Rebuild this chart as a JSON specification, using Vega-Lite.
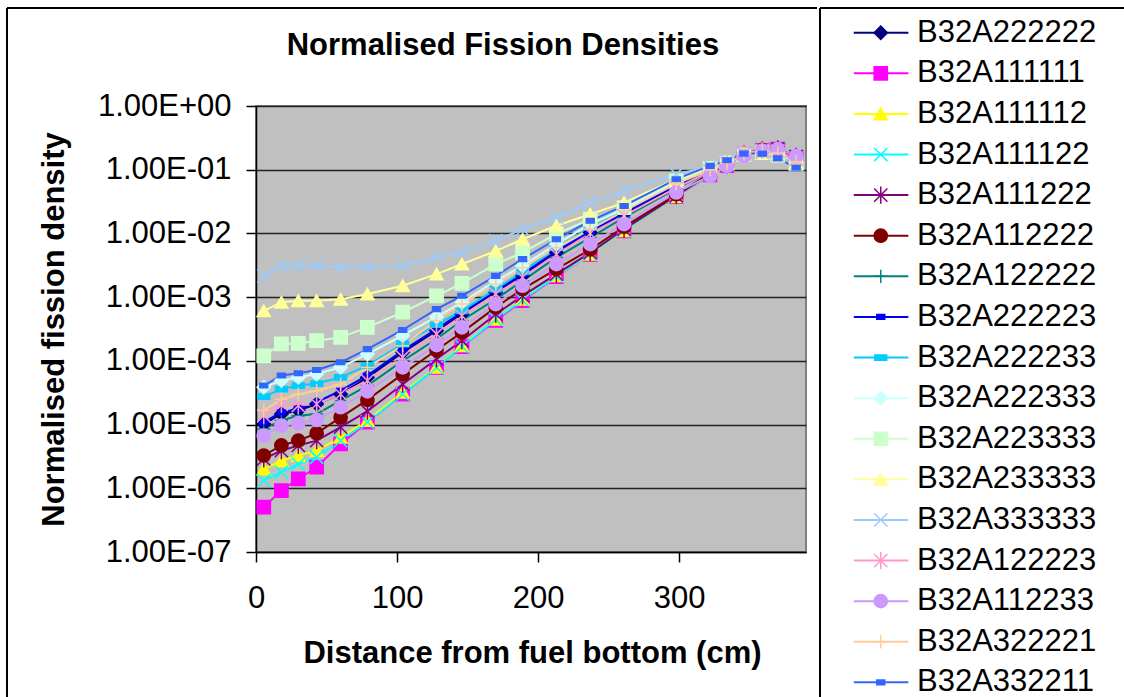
{
  "$schema": "https://vega.github.io/schema/vega-lite/v6.json",
  "padding": {"left": 5, "top": 6, "right": 0, "bottom": 0},
  "spacing": 0,
  "config": {"font": "Liberation Sans", "text": {"font": "Liberation Sans"}},
  "datasets": {
    "names": [{"s":"B32A222222","i":1},{"s":"B32A111111","i":2},{"s":"B32A111112","i":3},{"s":"B32A111122","i":4},{"s":"B32A111222","i":5},{"s":"B32A112222","i":6},{"s":"B32A122222","i":7},{"s":"B32A222223","i":8},{"s":"B32A222233","i":9},{"s":"B32A222333","i":10},{"s":"B32A223333","i":11},{"s":"B32A233333","i":12},{"s":"B32A333333","i":13},{"s":"B32A122223","i":14},{"s":"B32A112233","i":15},{"s":"B32A322221","i":16},{"s":"B32A332211","i":17}],
    "d": [
{"s":"B32A222222","x":5.5,"y":1.02e-5},{"s":"B32A222222","x":18,"y":1.47e-5},{"s":"B32A222222","x":30,"y":1.66e-5},{"s":"B32A222222","x":43,"y":2.1e-5},{"s":"B32A222222","x":60,"y":3.0e-5},{"s":"B32A222222","x":79,"y":5.5e-5},{"s":"B32A222222","x":104,"y":1.36e-4},{"s":"B32A222222","x":128,"y":2.97e-4},{"s":"B32A222222","x":146,"y":5.4e-4},{"s":"B32A222222","x":170,"y":1.19e-3},{"s":"B32A222222","x":189,"y":2.16e-3},{"s":"B32A222222","x":213,"y":5.0e-3},{"s":"B32A222222","x":237,"y":1.03e-2},{"s":"B32A222222","x":261,"y":2.0e-2},{"s":"B32A222222","x":298,"y":5.5e-2},{"s":"B32A222222","x":322,"y":0.097},{"s":"B32A222222","x":334,"y":0.125},{"s":"B32A222222","x":346,"y":0.18},{"s":"B32A222222","x":359,"y":0.2},{"s":"B32A222222","x":370,"y":0.19},{"s":"B32A222222","x":383,"y":0.14},
{"s":"B32A111111","x":5.5,"y":5.06e-7},{"s":"B32A111111","x":18,"y":9.2e-7},{"s":"B32A111111","x":30,"y":1.41e-6},{"s":"B32A111111","x":43,"y":2.14e-6},{"s":"B32A111111","x":60,"y":4.98e-6},{"s":"B32A111111","x":79,"y":1.09e-5},{"s":"B32A111111","x":104,"y":3.0e-5},{"s":"B32A111111","x":128,"y":7.9e-5},{"s":"B32A111111","x":146,"y":1.67e-4},{"s":"B32A111111","x":170,"y":4.3e-4},{"s":"B32A111111","x":189,"y":8.8e-4},{"s":"B32A111111","x":213,"y":2.1e-3},{"s":"B32A111111","x":237,"y":4.7e-3},{"s":"B32A111111","x":261,"y":1.1e-2},{"s":"B32A111111","x":298,"y":3.8e-2},{"s":"B32A111111","x":322,"y":0.083},{"s":"B32A111111","x":334,"y":0.116},{"s":"B32A111111","x":346,"y":0.172},{"s":"B32A111111","x":359,"y":0.2},{"s":"B32A111111","x":370,"y":0.21},{"s":"B32A111111","x":383,"y":0.155},
{"s":"B32A111112","x":5.5,"y":2.0e-6},{"s":"B32A111112","x":18,"y":2.7e-6},{"s":"B32A111112","x":30,"y":3.27e-6},{"s":"B32A111112","x":43,"y":3.9e-6},{"s":"B32A111112","x":60,"y":6.3e-6},{"s":"B32A111112","x":79,"y":1.16e-5},{"s":"B32A111112","x":104,"y":3.2e-5},{"s":"B32A111112","x":128,"y":7.9e-5},{"s":"B32A111112","x":146,"y":1.73e-4},{"s":"B32A111112","x":170,"y":4.5e-4},{"s":"B32A111112","x":189,"y":9.3e-4},{"s":"B32A111112","x":213,"y":2.16e-3},{"s":"B32A111112","x":237,"y":4.7e-3},{"s":"B32A111112","x":261,"y":1.1e-2},{"s":"B32A111112","x":298,"y":3.8e-2},{"s":"B32A111112","x":322,"y":0.085},{"s":"B32A111112","x":334,"y":0.118},{"s":"B32A111112","x":346,"y":0.178},{"s":"B32A111112","x":359,"y":0.205},{"s":"B32A111112","x":370,"y":0.215},{"s":"B32A111112","x":383,"y":0.16},
{"s":"B32A111122","x":5.5,"y":1.33e-6},{"s":"B32A111122","x":18,"y":1.79e-6},{"s":"B32A111122","x":30,"y":2.4e-6},{"s":"B32A111122","x":43,"y":3.07e-6},{"s":"B32A111122","x":60,"y":5.6e-6},{"s":"B32A111122","x":79,"y":1.09e-5},{"s":"B32A111122","x":104,"y":3.0e-5},{"s":"B32A111122","x":128,"y":7.9e-5},{"s":"B32A111122","x":146,"y":1.67e-4},{"s":"B32A111122","x":170,"y":4.5e-4},{"s":"B32A111122","x":189,"y":9.0e-4},{"s":"B32A111122","x":213,"y":2.16e-3},{"s":"B32A111122","x":237,"y":4.8e-3},{"s":"B32A111122","x":261,"y":1.12e-2},{"s":"B32A111122","x":298,"y":3.85e-2},{"s":"B32A111122","x":322,"y":0.084},{"s":"B32A111122","x":334,"y":0.117},{"s":"B32A111122","x":346,"y":0.176},{"s":"B32A111122","x":359,"y":0.203},{"s":"B32A111122","x":370,"y":0.212},{"s":"B32A111122","x":383,"y":0.158},
{"s":"B32A111222","x":5.5,"y":2.9e-6},{"s":"B32A111222","x":18,"y":3.9e-6},{"s":"B32A111222","x":30,"y":4.7e-6},{"s":"B32A111222","x":43,"y":5.6e-6},{"s":"B32A111222","x":60,"y":9.1e-6},{"s":"B32A111222","x":79,"y":1.62e-5},{"s":"B32A111222","x":104,"y":4.3e-5},{"s":"B32A111222","x":128,"y":1.07e-4},{"s":"B32A111222","x":146,"y":2.07e-4},{"s":"B32A111222","x":170,"y":5.4e-4},{"s":"B32A111222","x":189,"y":1.05e-3},{"s":"B32A111222","x":213,"y":2.3e-3},{"s":"B32A111222","x":237,"y":5.0e-3},{"s":"B32A111222","x":261,"y":1.17e-2},{"s":"B32A111222","x":298,"y":3.9e-2},{"s":"B32A111222","x":322,"y":0.086},{"s":"B32A111222","x":334,"y":0.119},{"s":"B32A111222","x":346,"y":0.18},{"s":"B32A111222","x":359,"y":0.207},{"s":"B32A111222","x":370,"y":0.213},{"s":"B32A111222","x":383,"y":0.162},
{"s":"B32A112222","x":5.5,"y":3.27e-6},{"s":"B32A112222","x":18,"y":4.7e-6},{"s":"B32A112222","x":30,"y":5.6e-6},{"s":"B32A112222","x":43,"y":7.3e-6},{"s":"B32A112222","x":60,"y":1.3e-5},{"s":"B32A112222","x":79,"y":2.44e-5},{"s":"B32A112222","x":104,"y":6.2e-5},{"s":"B32A112222","x":128,"y":1.48e-4},{"s":"B32A112222","x":146,"y":2.8e-4},{"s":"B32A112222","x":170,"y":6.9e-4},{"s":"B32A112222","x":189,"y":1.34e-3},{"s":"B32A112222","x":213,"y":2.75e-3},{"s":"B32A112222","x":237,"y":5.6e-3},{"s":"B32A112222","x":261,"y":1.27e-2},{"s":"B32A112222","x":298,"y":4.1e-2},{"s":"B32A112222","x":322,"y":0.088},{"s":"B32A112222","x":334,"y":0.12},{"s":"B32A112222","x":346,"y":0.178},{"s":"B32A112222","x":359,"y":0.205},{"s":"B32A112222","x":370,"y":0.21},{"s":"B32A112222","x":383,"y":0.158},
{"s":"B32A122222","x":5.5,"y":8.55e-6},{"s":"B32A122222","x":18,"y":1.16e-5},{"s":"B32A122222","x":30,"y":1.38e-5},{"s":"B32A122222","x":43,"y":1.47e-5},{"s":"B32A122222","x":60,"y":2.38e-5},{"s":"B32A122222","x":79,"y":4.1e-5},{"s":"B32A122222","x":104,"y":1.0e-4},{"s":"B32A122222","x":128,"y":2.2e-4},{"s":"B32A122222","x":146,"y":4.3e-4},{"s":"B32A122222","x":170,"y":9.3e-4},{"s":"B32A122222","x":189,"y":1.8e-3},{"s":"B32A122222","x":213,"y":4.2e-3},{"s":"B32A122222","x":237,"y":8.6e-3},{"s":"B32A122222","x":261,"y":1.78e-2},{"s":"B32A122222","x":298,"y":5.0e-2},{"s":"B32A122222","x":322,"y":0.095},{"s":"B32A122222","x":334,"y":0.124},{"s":"B32A122222","x":346,"y":0.18},{"s":"B32A122222","x":359,"y":0.2},{"s":"B32A122222","x":370,"y":0.19},{"s":"B32A122222","x":383,"y":0.142},
{"s":"B32A222223","x":5.5,"y":1.09e-5},{"s":"B32A222223","x":18,"y":1.56e-5},{"s":"B32A222223","x":30,"y":1.76e-5},{"s":"B32A222223","x":43,"y":2.24e-5},{"s":"B32A222223","x":60,"y":3.4e-5},{"s":"B32A222223","x":79,"y":5.9e-5},{"s":"B32A222223","x":104,"y":1.45e-4},{"s":"B32A222223","x":128,"y":3.16e-4},{"s":"B32A222223","x":146,"y":5.8e-4},{"s":"B32A222223","x":170,"y":1.26e-3},{"s":"B32A222223","x":189,"y":2.3e-3},{"s":"B32A222223","x":213,"y":5.3e-3},{"s":"B32A222223","x":237,"y":1.07e-2},{"s":"B32A222223","x":261,"y":2.08e-2},{"s":"B32A222223","x":298,"y":5.8e-2},{"s":"B32A222223","x":322,"y":0.099},{"s":"B32A222223","x":334,"y":0.127},{"s":"B32A222223","x":346,"y":0.178},{"s":"B32A222223","x":359,"y":0.197},{"s":"B32A222223","x":370,"y":0.185},{"s":"B32A222223","x":383,"y":0.135},
{"s":"B32A222233","x":5.5,"y":2.75e-5},{"s":"B32A222233","x":18,"y":3.6e-5},{"s":"B32A222233","x":30,"y":4.1e-5},{"s":"B32A222233","x":43,"y":4.4e-5},{"s":"B32A222233","x":60,"y":5.5e-5},{"s":"B32A222233","x":79,"y":8.4e-5},{"s":"B32A222233","x":104,"y":1.84e-4},{"s":"B32A222233","x":128,"y":3.7e-4},{"s":"B32A222233","x":146,"y":6.1e-4},{"s":"B32A222233","x":170,"y":1.34e-3},{"s":"B32A222233","x":189,"y":2.5e-3},{"s":"B32A222233","x":213,"y":6.0e-3},{"s":"B32A222233","x":237,"y":1.24e-2},{"s":"B32A222233","x":261,"y":2.26e-2},{"s":"B32A222233","x":298,"y":6.1e-2},{"s":"B32A222233","x":322,"y":0.1},{"s":"B32A222233","x":334,"y":0.128},{"s":"B32A222233","x":346,"y":0.177},{"s":"B32A222233","x":359,"y":0.195},{"s":"B32A222233","x":370,"y":0.182},{"s":"B32A222233","x":383,"y":0.132},
{"s":"B32A222333","x":5.5,"y":3.85e-5},{"s":"B32A222333","x":18,"y":4.9e-5},{"s":"B32A222333","x":30,"y":5.5e-5},{"s":"B32A222333","x":43,"y":6.2e-5},{"s":"B32A222333","x":60,"y":7.9e-5},{"s":"B32A222333","x":79,"y":1.28e-4},{"s":"B32A222333","x":104,"y":2.5e-4},{"s":"B32A222333","x":128,"y":4.9e-4},{"s":"B32A222333","x":146,"y":8.3e-4},{"s":"B32A222333","x":170,"y":1.8e-3},{"s":"B32A222333","x":189,"y":3.1e-3},{"s":"B32A222333","x":213,"y":6.8e-3},{"s":"B32A222333","x":237,"y":1.4e-2},{"s":"B32A222333","x":261,"y":2.4e-2},{"s":"B32A222333","x":298,"y":6.3e-2},{"s":"B32A222333","x":322,"y":0.1},{"s":"B32A222333","x":334,"y":0.128},{"s":"B32A222333","x":346,"y":0.176},{"s":"B32A222333","x":359,"y":0.193},{"s":"B32A222333","x":370,"y":0.18},{"s":"B32A222333","x":383,"y":0.13},
{"s":"B32A223333","x":5.5,"y":1.2e-4},{"s":"B32A223333","x":18,"y":1.84e-4},{"s":"B32A223333","x":30,"y":1.88e-4},{"s":"B32A223333","x":43,"y":2.07e-4},{"s":"B32A223333","x":60,"y":2.34e-4},{"s":"B32A223333","x":79,"y":3.36e-4},{"s":"B32A223333","x":104,"y":5.8e-4},{"s":"B32A223333","x":128,"y":1.05e-3},{"s":"B32A223333","x":146,"y":1.64e-3},{"s":"B32A223333","x":170,"y":3.3e-3},{"s":"B32A223333","x":189,"y":5.0e-3},{"s":"B32A223333","x":213,"y":9.8e-3},{"s":"B32A223333","x":237,"y":1.67e-2},{"s":"B32A223333","x":261,"y":2.55e-2},{"s":"B32A223333","x":298,"y":6.7e-2},{"s":"B32A223333","x":322,"y":0.105},{"s":"B32A223333","x":334,"y":0.128},{"s":"B32A223333","x":346,"y":0.172},{"s":"B32A223333","x":359,"y":0.185},{"s":"B32A223333","x":370,"y":0.17},{"s":"B32A223333","x":383,"y":0.125},
{"s":"B32A233333","x":5.5,"y":6.1e-4},{"s":"B32A233333","x":18,"y":8.3e-4},{"s":"B32A233333","x":30,"y":8.8e-4},{"s":"B32A233333","x":43,"y":8.8e-4},{"s":"B32A233333","x":60,"y":9.3e-4},{"s":"B32A233333","x":79,"y":1.12e-3},{"s":"B32A233333","x":104,"y":1.51e-3},{"s":"B32A233333","x":128,"y":2.3e-3},{"s":"B32A233333","x":146,"y":3.3e-3},{"s":"B32A233333","x":170,"y":5.3e-3},{"s":"B32A233333","x":189,"y":8.1e-3},{"s":"B32A233333","x":213,"y":1.32e-2},{"s":"B32A233333","x":237,"y":2.0e-2},{"s":"B32A233333","x":261,"y":3.05e-2},{"s":"B32A233333","x":298,"y":7.1e-2},{"s":"B32A233333","x":322,"y":0.108},{"s":"B32A233333","x":334,"y":0.13},{"s":"B32A233333","x":346,"y":0.17},{"s":"B32A233333","x":359,"y":0.18},{"s":"B32A233333","x":370,"y":0.165},{"s":"B32A233333","x":383,"y":0.125},
{"s":"B32A333333","x":5.5,"y":2.16e-3},{"s":"B32A333333","x":18,"y":3.1e-3},{"s":"B32A333333","x":30,"y":3.1e-3},{"s":"B32A333333","x":43,"y":3.1e-3},{"s":"B32A333333","x":60,"y":2.92e-3},{"s":"B32A333333","x":79,"y":3.0e-3},{"s":"B32A333333","x":104,"y":3.1e-3},{"s":"B32A333333","x":128,"y":4.2e-3},{"s":"B32A333333","x":146,"y":5.0e-3},{"s":"B32A333333","x":170,"y":7.7e-3},{"s":"B32A333333","x":189,"y":1.17e-2},{"s":"B32A333333","x":213,"y":1.78e-2},{"s":"B32A333333","x":237,"y":3.05e-2},{"s":"B32A333333","x":261,"y":4.65e-2},{"s":"B32A333333","x":298,"y":8.5e-2},{"s":"B32A333333","x":322,"y":0.112},{"s":"B32A333333","x":334,"y":0.135},{"s":"B32A333333","x":346,"y":0.175},{"s":"B32A333333","x":359,"y":0.185},{"s":"B32A333333","x":370,"y":0.17},{"s":"B32A333333","x":383,"y":0.12},
{"s":"B32A122223","x":5.5,"y":1.38e-5},{"s":"B32A122223","x":18,"y":2.1e-5},{"s":"B32A122223","x":30,"y":1.99e-5},{"s":"B32A122223","x":43,"y":2.1e-5},{"s":"B32A122223","x":60,"y":3.0e-5},{"s":"B32A122223","x":79,"y":4.9e-5},{"s":"B32A122223","x":104,"y":1.14e-4},{"s":"B32A122223","x":128,"y":2.64e-4},{"s":"B32A122223","x":146,"y":5.1e-4},{"s":"B32A122223","x":170,"y":1.12e-3},{"s":"B32A122223","x":189,"y":2.04e-3},{"s":"B32A122223","x":213,"y":4.7e-3},{"s":"B32A122223","x":237,"y":1.0e-2},{"s":"B32A122223","x":261,"y":1.9e-2},{"s":"B32A122223","x":298,"y":5.2e-2},{"s":"B32A122223","x":322,"y":0.095},{"s":"B32A122223","x":334,"y":0.124},{"s":"B32A122223","x":346,"y":0.182},{"s":"B32A122223","x":359,"y":0.202},{"s":"B32A122223","x":370,"y":0.195},{"s":"B32A122223","x":383,"y":0.145},
{"s":"B32A112233","x":5.5,"y":6.7e-6},{"s":"B32A112233","x":18,"y":9.6e-6},{"s":"B32A112233","x":30,"y":1.05e-5},{"s":"B32A112233","x":43,"y":1.18e-5},{"s":"B32A112233","x":60,"y":1.87e-5},{"s":"B32A112233","x":79,"y":3.33e-5},{"s":"B32A112233","x":104,"y":7.9e-5},{"s":"B32A112233","x":128,"y":1.77e-4},{"s":"B32A112233","x":146,"y":3.36e-4},{"s":"B32A112233","x":170,"y":7.8e-4},{"s":"B32A112233","x":189,"y":1.51e-3},{"s":"B32A112233","x":213,"y":3.3e-3},{"s":"B32A112233","x":237,"y":6.8e-3},{"s":"B32A112233","x":261,"y":1.4e-2},{"s":"B32A112233","x":298,"y":4.4e-2},{"s":"B32A112233","x":322,"y":0.08},{"s":"B32A112233","x":334,"y":0.115},{"s":"B32A112233","x":346,"y":0.164},{"s":"B32A112233","x":359,"y":0.2},{"s":"B32A112233","x":370,"y":0.21},{"s":"B32A112233","x":383,"y":0.164},
{"s":"B32A322221","x":5.5,"y":1.66e-5},{"s":"B32A322221","x":18,"y":2.5e-5},{"s":"B32A322221","x":30,"y":3.0e-5},{"s":"B32A322221","x":43,"y":3.4e-5},{"s":"B32A322221","x":60,"y":4.3e-5},{"s":"B32A322221","x":79,"y":7.9e-5},{"s":"B32A322221","x":104,"y":1.73e-4},{"s":"B32A322221","x":128,"y":4.3e-4},{"s":"B32A322221","x":146,"y":7.8e-4},{"s":"B32A322221","x":170,"y":1.6e-3},{"s":"B32A322221","x":189,"y":2.9e-3},{"s":"B32A322221","x":213,"y":6.0e-3},{"s":"B32A322221","x":237,"y":1.17e-2},{"s":"B32A322221","x":261,"y":2.26e-2},{"s":"B32A322221","x":298,"y":6.0e-2},{"s":"B32A322221","x":322,"y":0.1},{"s":"B32A322221","x":334,"y":0.127},{"s":"B32A322221","x":346,"y":0.178},{"s":"B32A322221","x":359,"y":0.196},{"s":"B32A322221","x":370,"y":0.183},{"s":"B32A322221","x":383,"y":0.133},
{"s":"B32A332211","x":5.5,"y":4.1e-5},{"s":"B32A332211","x":18,"y":5.9e-5},{"s":"B32A332211","x":30,"y":6.4e-5},{"s":"B32A332211","x":43,"y":7.2e-5},{"s":"B32A332211","x":60,"y":9.5e-5},{"s":"B32A332211","x":79,"y":1.53e-4},{"s":"B32A332211","x":104,"y":3.05e-4},{"s":"B32A332211","x":128,"y":6.5e-4},{"s":"B32A332211","x":146,"y":1.05e-3},{"s":"B32A332211","x":170,"y":2.16e-3},{"s":"B32A332211","x":189,"y":3.95e-3},{"s":"B32A332211","x":213,"y":8.1e-3},{"s":"B32A332211","x":237,"y":1.58e-2},{"s":"B32A332211","x":261,"y":2.7e-2},{"s":"B32A332211","x":298,"y":7.1e-2},{"s":"B32A332211","x":322,"y":0.115},{"s":"B32A332211","x":334,"y":0.141},{"s":"B32A332211","x":346,"y":0.179},{"s":"B32A332211","x":359,"y":0.179},{"s":"B32A332211","x":370,"y":0.151},{"s":"B32A332211","x":383,"y":0.108}
    ]
  },
  "hconcat": [
    {
      "width": 550,
      "height": 446,
      "view": {"fill": "#C0C0C0", "stroke": "#808080", "strokeWidth": 2},
      "layer": [
        {
          "data": {"values": [{}]},
          "mark": {"type": "rule", "color": "#000000", "strokeWidth": 2},
          "encoding": {
            "x": {"datum": -176.56, "type": "quantitative"},
            "x2": {"datum": 397.8},
            "y": {"datum": 34.5, "type": "quantitative"}
          }
        },
        {
          "data": {"values": [{}]},
          "mark": {"type": "rule", "color": "#000000", "strokeWidth": 2},
          "encoding": {
            "x": {"datum": -176.56, "type": "quantitative"},
            "y": {"datum": 34.5, "type": "quantitative"},
            "y2": {"datum": 4.6e-10}
          }
        },
        {
          "data": {"name": "d"},
          "mark": {"type": "line", "strokeWidth": 2},
          "encoding": {
            "x": {"field": "x", "type": "quantitative",
              "scale": {"domain": [0, 390], "nice": false, "zero": false},
              "axis": {"title": "Distance from fuel bottom (cm)", "values": [0, 100, 200, 300], "grid": false,
                "domainColor": "#000000", "domainWidth": 1.5, "tickColor": "#000000", "tickWidth": 1.5, "tickSize": 10,
                "labelFontSize": 31, "labelColor": "#000000", "labelPadding": 21, "labelFlush": false, "labelOverlap": false,
                "titleFontSize": 31, "titleFontWeight": "bold", "titleColor": "#000000",
                "titleX": 276, "titleY": 101, "titleAlign": "center", "titleBaseline": "middle"}},
            "y": {"field": "y", "type": "quantitative",
              "scale": {"type": "log", "domain": [1e-7, 1], "nice": false},
              "axis": {"title": "Normalised fission density", "values": [1e-7, 1e-6, 1e-5, 1e-4, 1e-3, 1e-2, 1e-1, 1],
                "labelExpr": "'1.00E' + (round(log(datum.value)/LN10) < 0 ? '-' : '+') + (abs(round(log(datum.value)/LN10)) < 10 ? '0' : '') + abs(round(log(datum.value)/LN10))",
                "grid": true, "gridColor": "#222222", "gridWidth": 1.5,
                "domainColor": "#000000", "domainWidth": 1.5, "tickColor": "#000000", "tickWidth": 1.5, "tickSize": 10,
                "labelFontSize": 31, "labelColor": "#000000", "labelPadding": 15, "labelOverlap": false,
                "titleFontSize": 31, "titleFontWeight": "bold", "titleColor": "#000000",
                "titleX": -202, "titleY": 223, "titleAngle": 270, "titleAlign": "center", "titleBaseline": "middle"}},
            "color": {"field": "s", "type": "nominal", "legend": null,
              "scale": {"domain": ["B32A222222","B32A111111","B32A111112","B32A111122","B32A111222","B32A112222","B32A122222","B32A222223","B32A222233","B32A222333","B32A223333","B32A233333","B32A333333","B32A122223","B32A112233","B32A322221","B32A332211"],
                "range": ["#000080","#FF00FF","#FFFF00","#00FFFF","#800080","#800000","#008080","#0000FF","#00CCFF","#CCFFFF","#CCFFCC","#FFFF99","#99CCFF","#FF99CC","#CC99FF","#FFCC99","#3366FF"]}}
          }
        },
        {
          "data": {"name": "d"},
          "mark": {"type": "point", "filled": true, "size": 175, "strokeWidth": 1.5, "opacity": 1},
          "encoding": {
            "x": {"field": "x", "type": "quantitative"},
            "y": {"field": "y", "type": "quantitative"},
            "color": {"field": "s", "type": "nominal", "legend": null},
            "stroke": {"field": "s", "type": "nominal", "legend": null,
              "scale": {"domain": ["B32A222222","B32A111111","B32A111112","B32A111122","B32A111222","B32A112222","B32A122222","B32A222223","B32A222233","B32A222333","B32A223333","B32A233333","B32A333333","B32A122223","B32A112233","B32A322221","B32A332211"],
                "range": ["#000080","#FF00FF","#FFFF00","#00FFFF","#800080","#800000","#008080","#0000FF","#00CCFF","#CCFFFF","#CCFFCC","#FFFF99","#99CCFF","#FF99CC","#CC99FF","#FFCC99","#3366FF"]}},
            "shape": {"field": "s", "type": "nominal", "legend": null,
              "scale": {"domain": ["B32A222222","B32A111111","B32A111112","B32A111122","B32A111222","B32A112222","B32A122222","B32A222223","B32A222233","B32A222333","B32A223333","B32A233333","B32A333333","B32A122223","B32A112233","B32A322221","B32A332211"],
                "range": ["diamond","square","triangle-up","M-1,-1L1,1M-1,1L1,-1","M-1,-1L1,1M-1,1L1,-1M0,-1.3L0,1.3","circle","M-1,0L1,0M0,-1L0,1","M-0.6,-0.35L0.6,-0.35L0.6,0.35L-0.6,0.35Z","M-0.9,-0.4L0.9,-0.4L0.9,0.4L-0.9,0.4Z","diamond","square","triangle-up","M-1,-1L1,1M-1,1L1,-1","M-1,-1L1,1M-1,1L1,-1M0,-1.3L0,1.3","circle","M-1,0L1,0M0,-1L0,1","M-0.6,-0.35L0.6,-0.35L0.6,0.35L-0.6,0.35Z"]}}
          }
        },
        {
          "data": {"values": [{}]},
          "mark": {"type": "text", "text": "Normalised Fission Densities", "fontSize": 31, "fontWeight": "bold", "align": "center", "baseline": "middle", "color": "#000000"},
          "encoding": {
            "x": {"datum": 175.1, "type": "quantitative"},
            "y": {"datum": 8.74, "type": "quantitative"}
          }
        }
      ]
    },
    {
      "width": 310,
      "height": 592,
      "view": {"stroke": null},
      "layer": [
        {
          "data": {"values": [{}]},
          "mark": {"type": "rule", "color": "#000000", "strokeWidth": 2},
          "encoding": {
            "x": {"datum": 0, "type": "quantitative", "scale": {"domain": [0, 100], "nice": false, "zero": false}, "axis": null},
            "x2": {"datum": 120},
            "y": {"datum": 0.391, "type": "quantitative", "scale": {"domain": [2.805, 17.385], "reverse": true, "nice": false, "zero": false}, "axis": null}
          }
        },
        {
          "data": {"values": [{}]},
          "mark": {"type": "rule", "color": "#000000", "strokeWidth": 2},
          "encoding": {
            "x": {"datum": 0, "type": "quantitative"},
            "y": {"datum": 0.391, "type": "quantitative"},
            "y2": {"datum": 17.6}
          }
        },
        {
          "data": {"name": "names"},
          "mark": {"type": "rule", "strokeWidth": 2},
          "encoding": {
            "x": {"datum": 10.9, "type": "quantitative"},
            "x2": {"datum": 28.5},
            "y": {"field": "i", "type": "quantitative"},
            "color": {"field": "s", "type": "nominal", "legend": null,
              "scale": {"domain": ["B32A222222","B32A111111","B32A111112","B32A111122","B32A111222","B32A112222","B32A122222","B32A222223","B32A222233","B32A222333","B32A223333","B32A233333","B32A333333","B32A122223","B32A112233","B32A322221","B32A332211"],
                "range": ["#000080","#FF00FF","#FFFF00","#00FFFF","#800080","#800000","#008080","#0000FF","#00CCFF","#CCFFFF","#CCFFCC","#FFFF99","#99CCFF","#FF99CC","#CC99FF","#FFCC99","#3366FF"]}}
          }
        },
        {
          "data": {"name": "names"},
          "mark": {"type": "point", "filled": true, "size": 175, "strokeWidth": 1.5, "opacity": 1},
          "encoding": {
            "x": {"datum": 19.6, "type": "quantitative"},
            "y": {"field": "i", "type": "quantitative"},
            "color": {"field": "s", "type": "nominal", "legend": null},
            "stroke": {"field": "s", "type": "nominal", "legend": null,
              "scale": {"domain": ["B32A222222","B32A111111","B32A111112","B32A111122","B32A111222","B32A112222","B32A122222","B32A222223","B32A222233","B32A222333","B32A223333","B32A233333","B32A333333","B32A122223","B32A112233","B32A322221","B32A332211"],
                "range": ["#000080","#FF00FF","#FFFF00","#00FFFF","#800080","#800000","#008080","#0000FF","#00CCFF","#CCFFFF","#CCFFCC","#FFFF99","#99CCFF","#FF99CC","#CC99FF","#FFCC99","#3366FF"]}},
            "shape": {"field": "s", "type": "nominal", "legend": null,
              "scale": {"domain": ["B32A222222","B32A111111","B32A111112","B32A111122","B32A111222","B32A112222","B32A122222","B32A222223","B32A222233","B32A222333","B32A223333","B32A233333","B32A333333","B32A122223","B32A112233","B32A322221","B32A332211"],
                "range": ["diamond","square","triangle-up","M-1,-1L1,1M-1,1L1,-1","M-1,-1L1,1M-1,1L1,-1M0,-1.3L0,1.3","circle","M-1,0L1,0M0,-1L0,1","M-0.6,-0.35L0.6,-0.35L0.6,0.35L-0.6,0.35Z","M-0.9,-0.4L0.9,-0.4L0.9,0.4L-0.9,0.4Z","diamond","square","triangle-up","M-1,-1L1,1M-1,1L1,-1","M-1,-1L1,1M-1,1L1,-1M0,-1.3L0,1.3","circle","M-1,0L1,0M0,-1L0,1","M-0.6,-0.35L0.6,-0.35L0.6,0.35L-0.6,0.35Z"]}}
          }
        },
        {
          "data": {"name": "names"},
          "mark": {"type": "text", "fontSize": 31, "align": "left", "baseline": "middle", "color": "#000000"},
          "encoding": {
            "x": {"datum": 31.3, "type": "quantitative"},
            "y": {"field": "i", "type": "quantitative"},
            "text": {"field": "s", "type": "nominal"}
          }
        }
      ]
    }
  ]
}
